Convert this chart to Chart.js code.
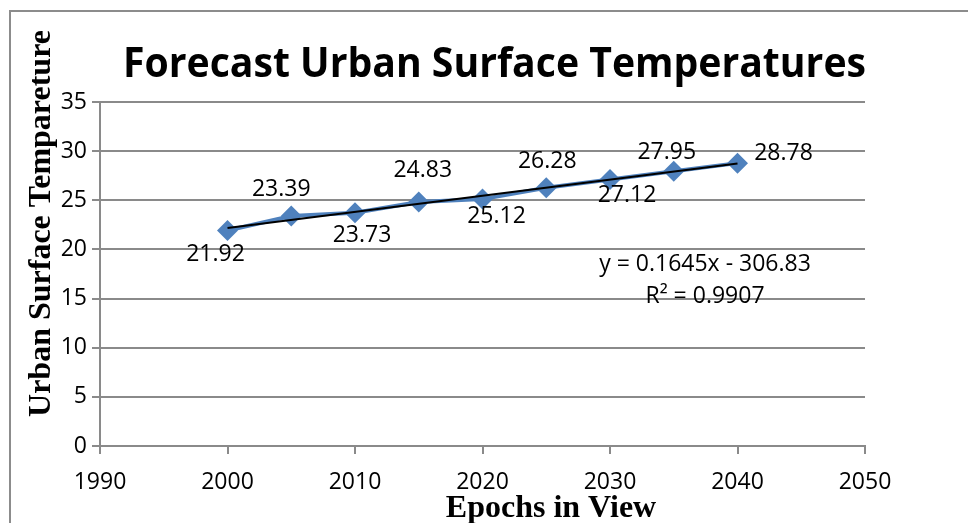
<!DOCTYPE html>
<html>
<head>
<meta charset="utf-8">
<script src="https://cdn.jsdelivr.net/npm/chart.js@4.4.0/dist/chart.umd.min.js"></script>
<style>
html, body { margin: 0; padding: 0; background: #fff; }
#wrap { width: 968px; height: 523px; }
</style>
</head>
<body>
<div id="wrap"><canvas id="lineChart" width="968" height="523"></canvas></div>
<script>
// values
var years = [2000, 2005, 2010, 2015, 2020, 2025, 2030, 2035, 2040];
var temps = [21.92, 23.39, 23.73, 24.83, 25.12, 26.28, 27.12, 27.95, 28.78];
var trendYears = [2000, 2040];
var trendTemps = [22.17, 28.75];
var xTicks = [1990, 2000, 2010, 2020, 2030, 2040, 2050];
var yTicks = [0, 5, 10, 15, 20, 25, 30, 35];
var equationLines = ["y = 0.1645x - 306.83", "R\u00b2 = 0.9907"];

// where each value label sits relative to its point (px)
var labelOffsets = [[-12, 24], [-10, -27], [7, 23], [4, -32], [14, 17], [1, -26], [17, 16], [-7, -19], [46, -10]];

var gridColor = '#8a8a8a';
Chart.defaults.font.family = "'Open Sans', sans-serif";
Chart.defaults.font.size = 23;
Chart.defaults.color = '#000';

var extras = {
    id: 'extras',
    beforeDraw: function (chart) {
        var ctx = chart.ctx;
        ctx.save();
        ctx.strokeStyle = '#8c8c8c';
        ctx.lineWidth = 2;
        ctx.beginPath();
        ctx.moveTo(10, 523);
        ctx.lineTo(10, 11);
        ctx.lineTo(968, 11);
        ctx.stroke();
        ctx.restore();
    },
    afterDatasetsDraw: function (chart) {
        var ctx = chart.ctx;
        var meta = chart.getDatasetMeta(1);
        ctx.save();
        ctx.fillStyle = '#000';
        ctx.font = "23px 'Open Sans'";
        ctx.textAlign = 'center';
        ctx.textBaseline = 'middle';
        meta.data.forEach(function (pt, i) {
            ctx.fillText(temps[i].toFixed(2), pt.x + labelOffsets[i][0], pt.y + labelOffsets[i][1]);
        });
        // trendline equation
        ctx.fillText(equationLines[0], 705, 264);
        ctx.fillText(equationLines[1], 705, 296);
        ctx.restore();
    },
    afterDraw: function (chart) {
        var ctx = chart.ctx;
        ctx.save();
        ctx.fillStyle = '#000';
        // chart title, squeezed to the width of the original
        ctx.font = "bold 42px 'Open Sans'";
        ctx.textAlign = 'center';
        ctx.textBaseline = 'alphabetic';
        var t = 'Forecast Urban Surface Temperatures';
        var s = 743 / ctx.measureText(t).width;
        ctx.translate(494.5, 77);
        ctx.scale(s, 1);
        ctx.fillText(t, 0, 0);
        ctx.restore();

        ctx.save();
        ctx.fillStyle = '#000';
        ctx.font = "bold 32px 'Liberation Serif'";
        ctx.textAlign = 'center';
        ctx.textBaseline = 'alphabetic';
        ctx.fillText('Epochs in View', 551, 517);
        ctx.translate(50, 223.5);
        ctx.rotate(-Math.PI / 2);
        ctx.fillText('Urban Surface Tempareture', 0, 0);
        ctx.restore();
    }
};

var ctxL = document.getElementById("lineChart").getContext('2d');
var myLineChart = new Chart(ctxL, {
    type: 'line',
    data: {
        datasets: [{
                label: 'Linear trend',
                data: trendYears.map(function (x, i) { return {x: x, y: trendTemps[i]}; }),
                borderColor: '#000',
                borderWidth: 2,
                pointRadius: 0,
                fill: false,
                order: 0
            }, {
                label: 'Urban surface temperature',
                data: years.map(function (x, i) { return {x: x, y: temps[i]}; }),
                borderColor: '#4f81bd',
                backgroundColor: '#4f81bd',
                borderWidth: 4,
                pointStyle: 'rectRot',
                pointRadius: 10.5,
                pointBorderWidth: 0,
                fill: false,
                order: 1
            }
        ]
    },
    options: {
        responsive: false,
        animation: false,
        devicePixelRatio: 1,
        layout: {padding: {left: 0, top: 102, right: 103, bottom: 0}},
        plugins: {legend: {display: false}, tooltip: {enabled: false}, title: {display: false}},
        scales: {
            x: {
                type: 'linear',
                min: 1990,
                max: 2050,
                afterBuildTicks: function (scale) { scale.ticks = xTicks.map(function (v) { return {value: v}; }); },
                afterFit: function (scale) { scale.height = 77; },
                ticks: {padding: 15, maxRotation: 0, callback: function (v) { return String(v); }},
                grid: {drawOnChartArea: false, drawTicks: true, tickLength: 8, color: gridColor, lineWidth: 2},
                border: {display: true, color: gridColor, width: 2}
            },
            y: {
                min: 0,
                max: 35,
                afterBuildTicks: function (scale) { scale.ticks = yTicks.map(function (v) { return {value: v}; }); },
                afterFit: function (scale) { scale.width = 100; },
                ticks: {padding: 5, callback: function (v) { return String(v); }},
                grid: {drawOnChartArea: true, drawTicks: true, tickLength: 8, color: gridColor, lineWidth: 2},
                border: {display: true, color: gridColor, width: 2}
            }
        }
    },
    plugins: [extras]
});
</script>
</body>
</html>
